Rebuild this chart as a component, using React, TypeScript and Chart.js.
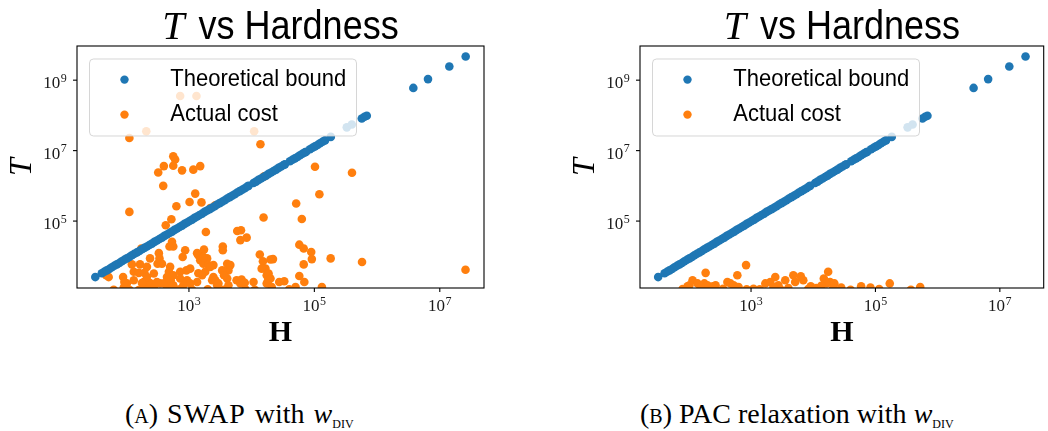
import React, { useEffect, useRef } from "react";
import { Chart, registerables } from "chart.js";

Chart.register(...registerables);

const BLUE = "#1f77b4";
const ORANGE = "#ff7f0e";

// axis extents (log10 exponents) and ticks
const X_RANGE_EXP = [1.215, 7.705];
const Y_RANGE_EXP = [3.1, 9.97];
const X_TICK_EXP = [3, 5, 7];
const Y_TICK_EXP = [5, 7, 9];
const SERIES_NAMES = ["Theoretical bound", "Actual cost"];
const TITLE_VAR = "T";
const TITLE_REST = " vs Hardness";
const X_LABEL = "H";
const Y_LABEL = "T";

// Theoretical bound (log10 H, log10 T) — same in both panels
const boundLogH = [
  1.507, 1.61, 1.65, 1.69, 1.73, 1.77, 1.81, 1.85, 1.89, 1.93, 1.97, 2.01, 2.05, 2.09, 2.13, 2.17,
  2.21, 2.25, 2.29, 2.33, 2.37, 2.41, 2.45, 2.49, 2.53, 2.57, 2.61, 2.65, 2.69, 2.73, 2.77, 2.81,
  2.85, 2.89, 2.93, 2.97, 3.01, 3.05, 3.09, 3.13, 3.17, 3.21, 3.25, 3.29, 3.33, 3.37, 3.41, 3.45,
  3.49, 3.53, 3.57, 3.61, 3.65, 3.69, 3.73, 3.77, 3.81, 3.85, 3.89, 3.93, 3.95,
  4.03, 4.07, 4.11, 4.15, 4.19, 4.23, 4.27, 4.31, 4.35, 4.39, 4.43, 4.47, 4.51, 4.53,
  4.61, 4.65, 4.69, 4.73, 4.77, 4.81, 4.85, 4.87,
  4.93, 4.97, 5.01, 5.05, 5.09, 5.13, 5.17,
  5.262, 5.517, 5.597, 5.756, 5.8, 5.836, 6.578, 6.812, 7.152, 7.413,
];
const boundLogT = [
  3.41, 3.52, 3.56, 3.6, 3.64, 3.69, 3.73, 3.77, 3.81, 3.86, 3.9, 3.94, 3.98, 4.03, 4.07, 4.11,
  4.15, 4.2, 4.24, 4.28, 4.32, 4.36, 4.41, 4.45, 4.49, 4.53, 4.58, 4.62, 4.66, 4.7, 4.75, 4.79,
  4.83, 4.87, 4.92, 4.96, 5.0, 5.04, 5.09, 5.13, 5.17, 5.21, 5.26, 5.3, 5.34, 5.38, 5.42, 5.47,
  5.51, 5.55, 5.59, 5.64, 5.68, 5.72, 5.76, 5.81, 5.85, 5.89, 5.93, 5.98, 6.0,
  6.08, 6.12, 6.17, 6.21, 6.25, 6.29, 6.34, 6.38, 6.42, 6.46, 6.51, 6.55, 6.59, 6.61,
  6.7, 6.74, 6.78, 6.82, 6.87, 6.91, 6.95, 6.97,
  7.04, 7.08, 7.12, 7.16, 7.21, 7.25, 7.29,
  7.39, 7.66, 7.74, 7.91, 7.96, 7.99, 8.78, 9.03, 9.39, 9.67,
];

// Actual cost, SWAP with w_DIV (log10 H, log10 T)
const swapCostLogH = [
  2.05, 2.32, 2.86, 3.12, 4.04, 4.14, 2.75, 2.78, 2.75, 2.6, 2.51, 2.89, 3.07, 3.18,
  2.59, 3.1, 3.01, 3.2, 2.8, 2.05, 3.34, 3.42, 2.72, 2.63, 3.27, 2.24,
  4.2, 5.01, 5.6, 5.08, 4.71, 4.19, 4.8, 3.77, 3.83, 3.82, 3.92,
  4.76, 4.83, 4.95, 4.96, 5.26, 5.76, 7.41, 4.83, 4.76, 4.84, 5.12, 4.34,
  4.13, 4.18, 4.3, 4.22, 4.24, 4.26, 4.44, 4.52, 3.54, 3.54,
  2.73, 2.75, 2.69, 2.94, 3.13, 3.15, 3.24, 2.52, 2.53, 2.38, 2.5, 2.57,
  2.09, 2.22, 2.33, 2.12, 2.2, 2.29, 1.95, 2.01, 1.96, 1.68, 1.72,
  2.12, 2.28, 2.38, 2.28, 2.44, 2.54, 2.65, 2.6, 2.49,
  2.7, 2.68, 2.75, 2.71, 2.86, 2.96, 3.02, 2.86, 2.97, 2.91,
  3.18, 3.23, 3.29, 3.31, 3.39, 3.26, 3.21, 3.37, 3.42, 3.45,
  3.61, 3.66, 3.63, 3.58, 3.61, 3.63, 3.76, 3.84, 3.82,
  4.16, 4.27, 4.3, 4.24, 4.7, 4.32, 2.9, 3.23, 3.34, 3.53, 3.56, 3.39, 3.47,
  3.15, 3.13, 3.02, 2.65, 2.75, 2.44, 2.33, 2.25, 1.97, 3.89, 4.03,
  1.8, 2.05, 2.2, 2.35, 2.7, 2.85, 3.05, 3.3, 3.55, 3.9, 4.05, 4.6,
];
const swapCostLogT = [
  7.36, 7.55, 8.55, 8.55, 7.55, 7.18, 6.84, 6.75, 6.57, 6.56, 6.38, 6.44, 6.46, 6.56,
  6.0, 5.78, 5.54, 5.53, 5.42, 5.26, 5.37, 5.45, 5.05, 4.88, 4.69, 4.22,
  6.27, 6.54, 6.37, 5.76, 5.5, 5.1, 5.06, 4.72, 4.74, 4.46, 4.53,
  4.33, 4.22, 4.12, 3.92, 3.94, 3.84, 3.62, 3.77, 3.44, 3.27, 3.13, 3.92,
  4.05, 3.86, 3.91, 3.65, 3.46, 3.3, 3.27, 3.29, 4.28, 4.17,
  4.41, 4.28, 4.28, 4.17, 4.09, 4.03, 4.19, 4.09, 3.94, 3.94, 3.79, 3.79,
  3.77, 3.77, 3.7, 3.56, 3.53, 3.53, 3.41, 3.23, 3.11, 3.46, 3.41,
  3.32, 3.27, 3.24, 3.11, 3.11, 3.23, 3.15, 3.23, 3.27,
  3.7, 3.56, 3.46, 3.32, 3.56, 3.6, 3.65, 3.37, 3.32, 3.18,
  3.89, 3.79, 3.94, 3.75, 3.75, 3.56, 3.46, 3.32, 3.32, 3.18,
  3.79, 3.75, 3.6, 3.56, 3.37, 3.18, 3.32, 3.34, 3.23,
  3.65, 3.51, 3.37, 3.23, 3.13, 3.13, 3.98, 3.98, 3.7, 3.6, 3.46, 3.41, 3.23,
  3.52, 3.27, 3.23, 3.41, 3.18, 3.51, 3.41, 3.24, 3.27, 3.25, 3.27,
  3.05, 3.05, 3.04, 3.06, 3.05, 3.06, 3.05, 3.06, 3.05, 3.06, 3.05, 3.06,
];

// Actual cost, PAC relaxation with w_DIV (log10 H, log10 T)
const pacCostLogH = [
  2.27, 2.06, 2.14, 2.01, 2.25, 2.3, 2.43, 2.62, 2.67, 2.78, 2.72, 2.92, 3.04,
  3.23, 3.31, 3.39, 3.44, 3.36, 3.55, 3.68, 3.71, 3.84, 3.96, 4.17, 4.24, 4.27,
  4.34, 4.21, 4.45, 3.8, 4.77, 4.92, 5.23, 5.72, 5.57, 5.06, 1.98, 2.19, 2.39,
  2.8, 2.93, 3.14, 3.6, 3.48, 3.92, 4.05, 4.13, 4.32, 4.6, 1.9, 2.55,
];
const pacCostLogT = [
  3.53, 3.32, 3.23, 3.18, 3.23, 3.18, 3.18, 3.27, 3.23, 3.46, 3.18, 3.75, 3.08,
  3.23, 3.27, 3.41, 3.18, 3.13, 3.32, 3.46, 3.27, 3.32, 3.15, 3.37, 3.56, 3.27,
  3.23, 3.23, 3.11, 3.43, 3.15, 3.11, 3.23, 3.13, 3.05, 3.07, 3.15, 3.13, 3.15,
  3.13, 3.06, 3.06, 3.1, 3.05, 3.07, 3.1, 3.16, 3.1, 3.05, 3.07, 3.08,
];

const SERIF = '"Liberation Serif", "Times New Roman", serif';
const SANS = '"Liberation Sans", Arial, sans-serif';

function powLabel(ctx: CanvasRenderingContext2D, x: number, baseline: number, exp: number, align: string) {
  ctx.font = `17px ${SERIF}`;
  const w1 = ctx.measureText("10").width;
  ctx.font = `12px ${SERIF}`;
  const w2 = ctx.measureText(String(exp)).width;
  const total = w1 + w2 + 0.5;
  const x0 = align === "center" ? x - total / 2 : x - total;
  ctx.textAlign = "left";
  ctx.textBaseline = "alphabetic";
  ctx.font = `17px ${SERIF}`;
  ctx.fillText("10", x0, baseline);
  ctx.font = `12px ${SERIF}`;
  ctx.fillText(String(exp), x0 + w1 + 0.5, baseline - 6.5);
}

const overlayPlugin = {
  id: "overlay",
  afterDatasetsDraw(chart: any) {
    const ctx: CanvasRenderingContext2D = chart.ctx;
    const a = chart.chartArea;
    const xs = chart.scales.x;
    const ys = chart.scales.y;
    const cx = (a.left + a.right) / 2;
    const cy = (a.top + a.bottom) / 2;
    ctx.save();

    // legend (drawn above points, translucent)
    const lx = a.left + 12.5;
    const ly = a.top + 13;
    const lw = 267;
    const lh = 77;
    const r = 4;
    ctx.beginPath();
    ctx.moveTo(lx + r, ly);
    ctx.lineTo(lx + lw - r, ly);
    ctx.quadraticCurveTo(lx + lw, ly, lx + lw, ly + r);
    ctx.lineTo(lx + lw, ly + lh - r);
    ctx.quadraticCurveTo(lx + lw, ly + lh, lx + lw - r, ly + lh);
    ctx.lineTo(lx + r, ly + lh);
    ctx.quadraticCurveTo(lx, ly + lh, lx, ly + lh - r);
    ctx.lineTo(lx, ly + r);
    ctx.quadraticCurveTo(lx, ly, lx + r, ly);
    ctx.closePath();
    ctx.fillStyle = "rgba(255,255,255,0.8)";
    ctx.fill();
    ctx.strokeStyle = "rgba(204,204,204,0.8)";
    ctx.lineWidth = 1;
    ctx.stroke();

    const colors = [BLUE, ORANGE];
    ctx.font = `24px ${SANS}`;
    const k = 176 / ctx.measureText(SERIES_NAMES[0]).width;
    SERIES_NAMES.forEach((name, i) => {
      const my = a.top + 33.6 + i * 35;
      ctx.fillStyle = colors[i];
      ctx.beginPath();
      ctx.arc(a.left + 47.5, my, 4.2, 0, Math.PI * 2);
      ctx.fill();
      ctx.fillStyle = "#000";
      ctx.textAlign = "left";
      ctx.textBaseline = "alphabetic";
      ctx.save();
      ctx.translate(a.left + 93.3, my + 6.8);
      ctx.scale(k, 1);
      ctx.fillText(name, 0, 0);
      ctx.restore();
    });

    // frame
    ctx.strokeStyle = "#000";
    ctx.lineWidth = 1.1;
    ctx.strokeRect(a.left, a.top, a.right - a.left, a.bottom - a.top);

    // ticks + labels
    ctx.fillStyle = "#1a1a1a";
    X_TICK_EXP.forEach((e) => {
      const px = xs.getPixelForValue(Math.pow(10, e));
      ctx.beginPath();
      ctx.moveTo(px, a.bottom);
      ctx.lineTo(px, a.bottom + 4);
      ctx.stroke();
      powLabel(ctx, px, a.bottom + 23, e, "center");
    });
    Y_TICK_EXP.forEach((e) => {
      const py = ys.getPixelForValue(Math.pow(10, e));
      ctx.beginPath();
      ctx.moveTo(a.left - 4, py);
      ctx.lineTo(a.left, py);
      ctx.stroke();
      powLabel(ctx, a.left - 10.3, py + 8.3, e, "right");
    });

    // title
    ctx.fillStyle = "#000";
    ctx.textAlign = "left";
    ctx.textBaseline = "alphabetic";
    ctx.font = `italic 40px ${SERIF}`;
    const wT = ctx.measureText(TITLE_VAR).width;
    ctx.font = `40px ${SANS}`;
    const kt = 0.9;
    const wR = ctx.measureText(TITLE_REST).width * kt;
    const tx = cx - (wT + 4 + wR) / 2;
    ctx.font = `italic 40px ${SERIF}`;
    ctx.fillText(TITLE_VAR, tx, 39);
    ctx.font = `40px ${SANS}`;
    ctx.save();
    ctx.translate(tx + wT + 4, 39);
    ctx.scale(kt, 1);
    ctx.fillText(TITLE_REST, 0, 0);
    ctx.restore();

    // axis labels
    ctx.font = `bold 30px ${SERIF}`;
    ctx.textAlign = "center";
    ctx.fillText(X_LABEL, cx, a.bottom + 53);
    ctx.save();
    ctx.translate(a.left - 46, cy);
    ctx.rotate(-Math.PI / 2);
    ctx.font = `italic 32px ${SERIF}`;
    ctx.textAlign = "center";
    ctx.fillText(Y_LABEL, 0, 0);
    ctx.restore();

    ctx.restore();
  },
};

function toPoints(hs: number[], ts: number[]) {
  return hs.map((h, i) => ({ x: Math.pow(10, h), y: Math.pow(10, ts[i]) }));
}

function Panel(props: { left: number; padLeft: number; padRight: number; costH: number[]; costT: number[] }) {
  const ref = useRef<HTMLCanvasElement | null>(null);
  useEffect(() => {
    if (!ref.current) return;
    const chart = new Chart(ref.current, {
      type: "scatter",
      data: {
        datasets: [
          {
            label: SERIES_NAMES[0],
            data: toPoints(boundLogH, boundLogT),
            backgroundColor: BLUE,
            pointRadius: 4.3,
            pointHoverRadius: 4.3,
            borderWidth: 0,
            clip: 0,
          } as any,
          {
            label: SERIES_NAMES[1],
            data: toPoints(props.costH, props.costT),
            backgroundColor: ORANGE,
            pointRadius: 4.3,
            pointHoverRadius: 4.3,
            borderWidth: 0,
            clip: 0,
          } as any,
        ],
      },
      options: {
        animation: false,
        responsive: false,
        devicePixelRatio: 1,
        events: [],
        layout: { padding: { left: props.padLeft, right: props.padRight, top: 46, bottom: 72 } },
        plugins: { legend: { display: false }, tooltip: { enabled: false }, title: { display: false } },
        scales: {
          x: { type: "logarithmic", min: Math.pow(10, X_RANGE_EXP[0]), max: Math.pow(10, X_RANGE_EXP[1]), display: false },
          y: { type: "logarithmic", min: Math.pow(10, Y_RANGE_EXP[0]), max: Math.pow(10, Y_RANGE_EXP[1]), display: false },
        },
      } as any,
      plugins: [overlayPlugin as any],
    });
    return () => chart.destroy();
  }, []);
  return (
    <canvas
      ref={ref}
      width={524}
      height={360}
      style={{ position: "absolute", left: props.left, top: 0, width: 524, height: 360 }}
    />
  );
}

const capStyle = (left: number): React.CSSProperties => ({
  position: "absolute",
  left,
  top: 399,
  fontFamily: SERIF,
  fontSize: 28,
  lineHeight: "30px",
  whiteSpace: "nowrap",
  color: "#000",
});

const subStyle: React.CSSProperties = {
  fontVariant: "small-caps",
  fontSize: "0.6em",
  verticalAlign: "-0.3em",
};

export default function App() {
  return (
    <div style={{ position: "absolute", left: 0, top: 0, width: 1048, height: 431, background: "#fff", overflow: "hidden" }}>
      <Panel left={0} padLeft={77} padRight={40} costH={swapCostLogH} costT={swapCostLogT} />
      <Panel left={524} padLeft={116} padRight={0} costH={pacCostLogH} costT={pacCostLogT} />
      <div style={{ ...capStyle(125), wordSpacing: 2 }}>
        <span style={{ fontVariant: "small-caps" }}>(a)</span> <span style={{ letterSpacing: 1 }}>SWAP</span> with <i>w</i>
        <span style={subStyle}>div</span>
      </div>
      <div style={capStyle(640)}>
        <span style={{ fontVariant: "small-caps" }}>(b)</span> PAC relaxation with <i>w</i>
        <span style={subStyle}>div</span>
      </div>
    </div>
  );
}
